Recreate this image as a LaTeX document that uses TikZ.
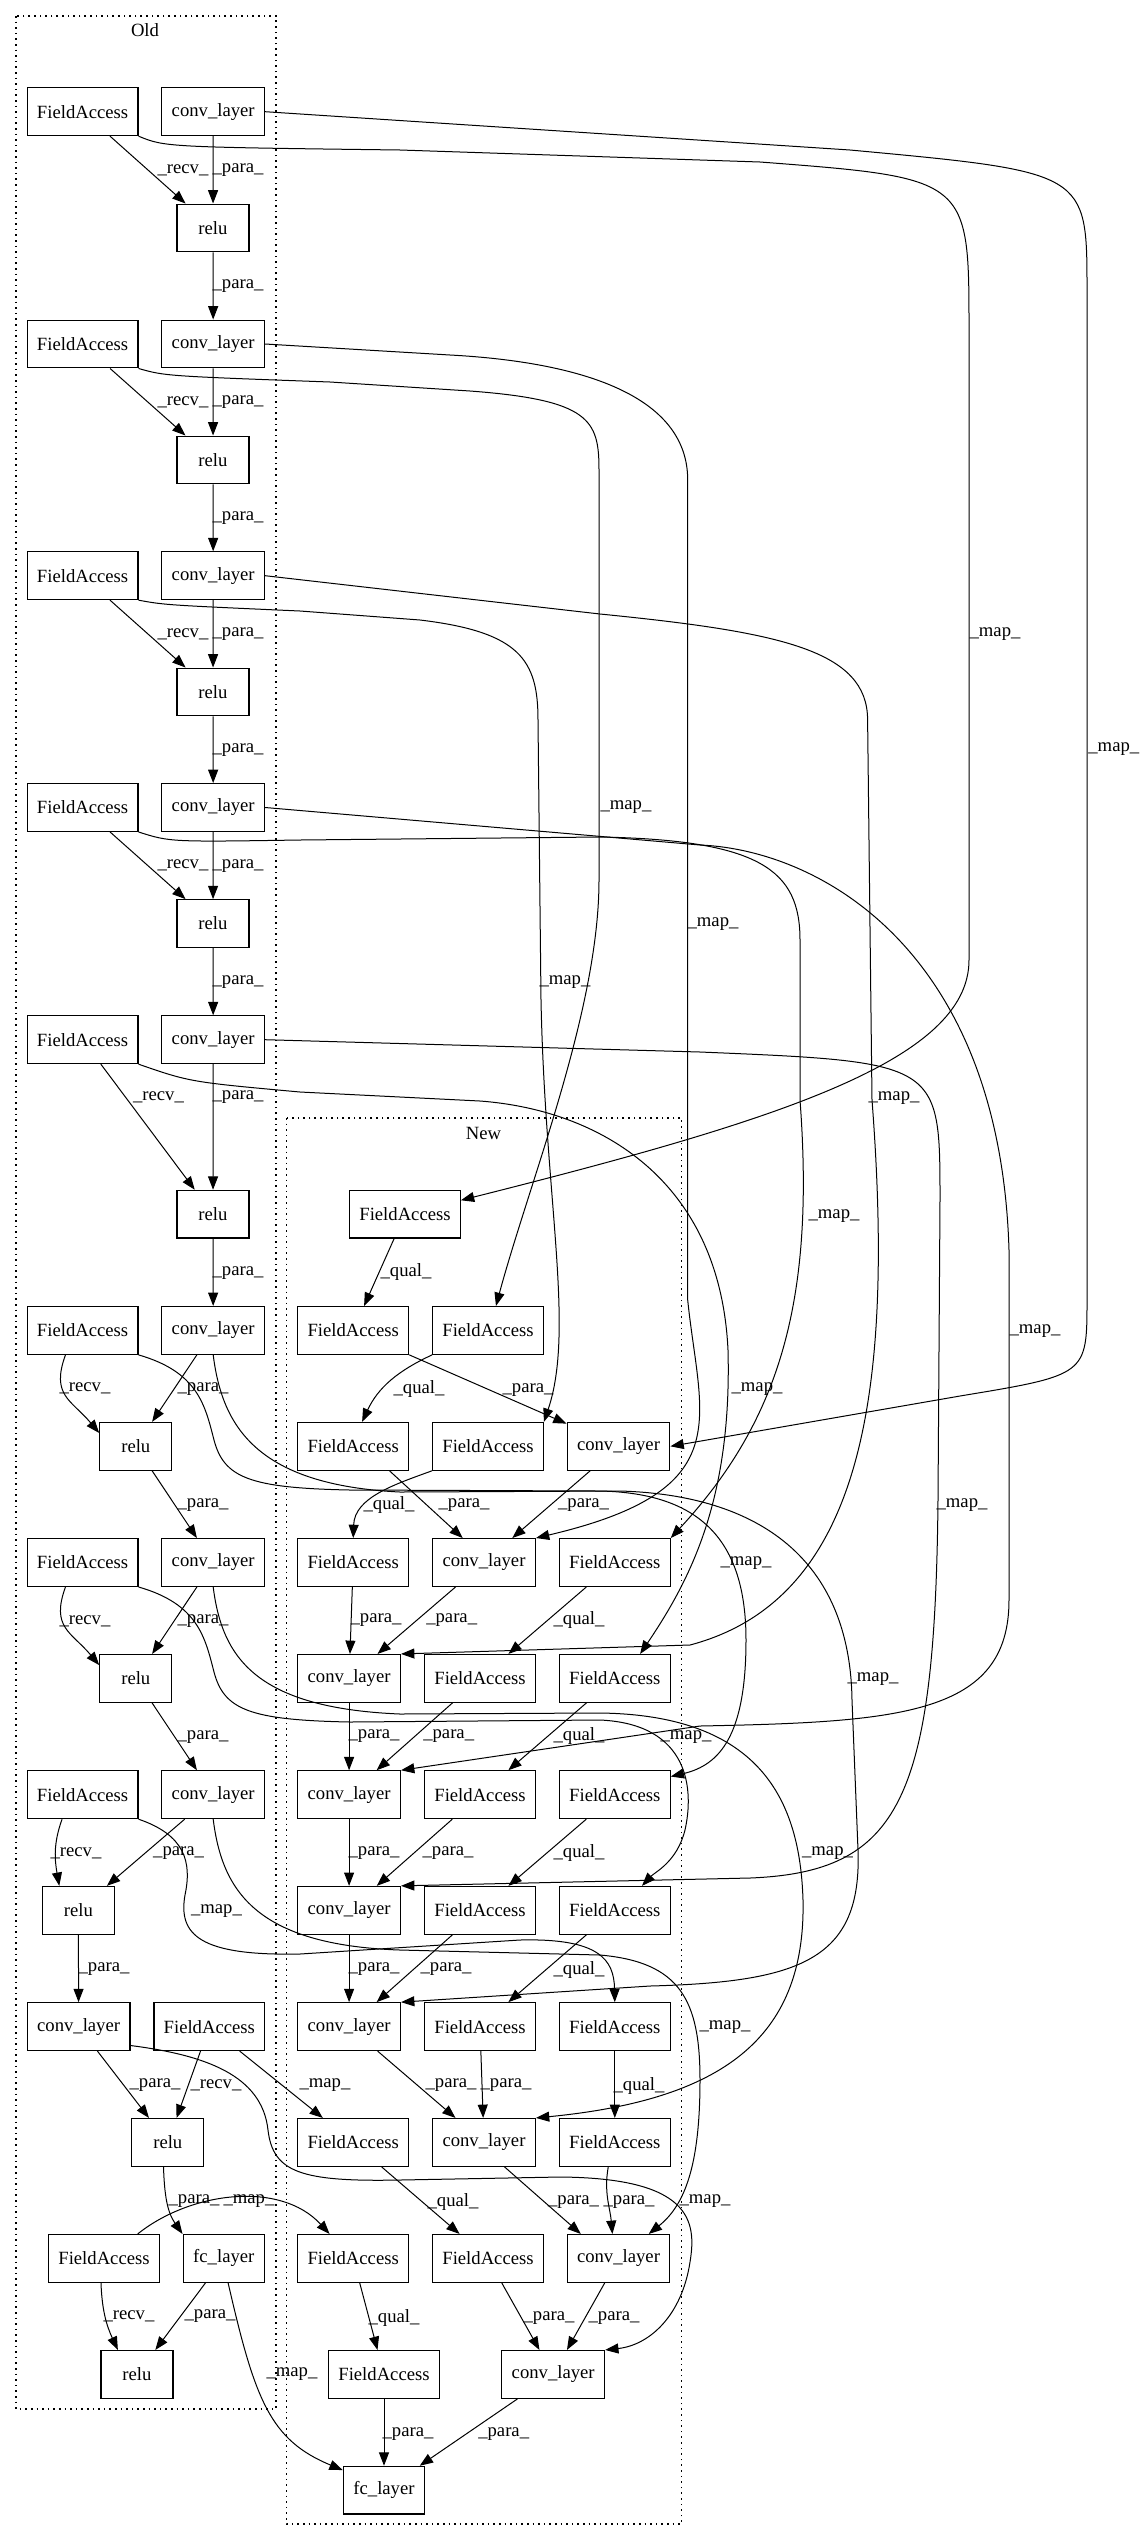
\documentclass[tikz,border=0pt]{standalone}
\usepackage{fontspec}
\setmainfont{Liberation Serif}
\usetikzlibrary{arrows.meta}
\tikzset{
  box/.style={draw, line width=0.9pt, inner sep=0pt, minimum height=35.8pt, font=\fontsize{14}{17}\selectfont},
  fa/.style={box, minimum width=83pt},
  cv/.style={box, minimum width=77pt},
  rl/.style={box, minimum width=54pt},
  fcbox/.style={box, minimum width=61pt},
  arr/.style={line width=0.75pt, -{Triangle[length=10pt,width=7.5pt]}},
  lab/.style={inner sep=0pt, font=\fontsize{14}{17}\selectfont},
  clus/.style={line width=0.9pt, dash pattern=on 1.2pt off 3pt}
}
\begin{document}
\begin{tikzpicture}[x=0.75pt,y=0.75pt]
  \useasboundingbox (0,0) rectangle (1144,-2541);
  % clusters
  \draw[clus] (16,-16) rectangle (276,-2409);
  \node[lab] (old) at (145,-30) {Old};
  \draw[clus] (286.6,-1118) rectangle (681.7,-2524);
  \node[lab] (new) at (483.5,-1133.6) {New};

  % old graph
  \foreach \i/\y/\r in {1/111.7/228, 2/344/460, 3/575.7/692, 4/807.5/923.6, 5/1039.7/1214.2} {
    \node[fa] (ofa\i) at (82.6,-\y) {FieldAccess};
    \node[cv] (ocv\i) at (213.2,-\y) {conv\_layer};
    \node[rl] (orelu\i) at (213,-\r) {relu};
  }
  \foreach \i/\y/\r in {6/1330.4/1446.3, 7/1562.5/1678.4} {
    \node[fa] (ofa\i) at (82.6,-\y) {FieldAccess};
    \node[cv] (ocv\i) at (213.2,-\y) {conv\_layer};
    \node[rl] (orelu\i) at (135.8,-\r) {relu};
  }
  \node[fa] (ofa8) at (82.6,-1794.7) {FieldAccess};
  \node[cv] (ocv8) at (213.2,-1794.7) {conv\_layer};
  \node[rl] (orelu8) at (78.4,-1910.3) {relu};
  \node[cv] (ocv9) at (78.6,-2026.6) {conv\_layer};
  \node[fa] (ofa9) at (209.3,-2026.6) {FieldAccess};
  \node[rl] (orelu9) at (167.8,-2142.4) {relu};
  \node[fa] (ofa10) at (104,-2258.4) {FieldAccess};
  \node[fcbox] (ofc) at (223.8,-2258.4) {fc\_layer};
  \node[rl] (orelu10) at (137,-2374.4) {relu};

  \foreach \i in {1,...,5} {
    \draw[arr] (ofa\i) -- (orelu\i);
    \draw[arr] (ocv\i) -- (orelu\i);
  }
  \foreach \i in {6,7} {
    \draw[arr] (ofa\i.-125) to[out=-110,in=130,looseness=1.3] (orelu\i.160);
    \draw[arr] (ocv\i) -- (orelu\i);
  }
  \foreach \i/\n in {1/2, 2/3, 3/4, 4/5, 5/6, 6/7, 7/8, 8/9}
    \draw[arr] (orelu\i) -- (ocv\n);
  \draw[arr] (ofa8.-130) to[out=-110,in=100] (orelu8.128);
  \draw[arr] (ocv8) -- (orelu8);
  \draw[arr] (ocv9) -- (orelu9);
  \draw[arr] (ofa9) -- (orelu9);
  \draw[arr] (orelu9.-100) to[out=-88,in=125] (ofc.north west);
  \draw[arr] (ofa10.-97) to[out=-88,in=115] (orelu10.128);
  \draw[arr] (ofc) -- (orelu10);

  % new graph
  \node[fa] (nfa1) at (405,-1214.2) {FieldAccess};
  \node[fa] (nfa2) at (353.2,-1330.4) {FieldAccess};
  \node[fa] (nfa3) at (488,-1330.4) {FieldAccess};
  \node[fa] (nfa4) at (353.2,-1446.3) {FieldAccess};
  \node[fa] (nfa5) at (488,-1446.3) {FieldAccess};
  \node[cv] (ncv1) at (618.5,-1446.3) {conv\_layer};
  \node[fa] (nfa6) at (353.2,-1562.5) {FieldAccess};
  \node[cv] (ncv2) at (484,-1562.5) {conv\_layer};
  \node[fa] (nfa7) at (614.8,-1562.5) {FieldAccess};
  \foreach \c/\a/\b/\y in {3/8/9/1678.4, 4/10/11/1794.7, 5/12/13/1910.3, 6/14/15/2026.6} {
    \node[cv] (ncv\c) at (349.1,-\y) {conv\_layer};
    \node[fa] (nfa\a) at (480,-\y) {FieldAccess};
    \node[fa] (nfa\b) at (614.8,-\y) {FieldAccess};
  }
  \node[fa] (nfa16) at (353.2,-2142.4) {FieldAccess};
  \node[cv] (ncv7) at (484,-2142.4) {conv\_layer};
  \node[fa] (nfa17) at (614.8,-2142.4) {FieldAccess};
  \node[fa] (nfa18) at (353.2,-2258.4) {FieldAccess};
  \node[fa] (nfa19) at (488,-2258.4) {FieldAccess};
  \node[cv] (ncv8) at (618.5,-2258.4) {conv\_layer};
  \node[fa] (nfa20) at (384,-2374.4) {FieldAccess};
  \node[cv] (ncv9) at (553.2,-2374.4) {conv\_layer};
  \node[fcbox] (nfc) at (384,-2490.2) {fc\_layer};

  \draw[arr] (nfa1) -- (nfa2);
  \draw[arr] (nfa2) -- (ncv1);
  \draw[arr] (nfa3.south west) to[out=205,in=65] (nfa4.70);
  \draw[arr] (nfa5.south west) to[out=200,in=88] (nfa6.north);
  \draw[arr] (nfa4.-34) -- (ncv2.131);
  \draw[arr] (ncv1) -- (ncv2);
  \draw[arr] (nfa6) -- (ncv3);
  \draw[arr] (ncv2) -- (ncv3);
  \draw[arr] (nfa7) -- (nfa8);
  \foreach \c/\a/\b/\n/\m in {3/8/9/4/10, 4/10/11/5/12, 5/12/13/6/14} {
    \draw[arr] (ncv\c) -- (ncv\n);
    \draw[arr] (nfa\a) -- (ncv\n);
    \draw[arr] (nfa\b) -- (nfa\m);
  }
  \draw[arr] (ncv6) -- (ncv7);
  \draw[arr] (nfa14) -- (ncv7);
  \draw[arr] (nfa15) -- (nfa17);
  \draw[arr] (nfa16) -- (nfa19);
  \draw[arr] (ncv7.-50) -- (ncv8.147);
  \draw[arr] (nfa17.-105) to[out=-100,in=95] (ncv8.104);
  \draw[arr] (nfa18) -- (nfa20);
  \draw[arr] (nfa19) -- (ncv9);
  \draw[arr] (ncv8) -- (ncv9);
  \draw[arr] (nfa20) -- (nfc);
  \draw[arr] (ncv9) -- (nfc);

  % map edges old -> new
  \draw[arr] (ofa1.south east) .. controls (165,-147) .. (400,-150) -- (760,-162) .. controls (969,-178) .. (969,-330) -- (969,-960) .. controls (969,-1060) and (780,-1120) .. (nfa1.14);
  \draw[arr] (ocv1.east) -- (850,-150) .. controls (1087,-172) .. (1087,-290) -- (1087,-1300) .. controls (1087,-1375) .. (960,-1396) -- (ncv1.east);
  \draw[arr] (ofa2.south east) .. controls (165,-376) .. (330,-382) -- (470,-391) .. controls (590,-400) and (599,-420) .. (599,-470) -- (599,-880) .. controls (599,-1010) and (530,-1180) .. (nfa3.72);
  \draw[arr] (ocv2.east) -- (450,-355) .. controls (580,-362) and (687.7,-395) .. (687.7,-480) -- (687.7,-1300) .. controls (700,-1420) and (740,-1490) .. (ncv2.north east);
  \draw[arr] (ofa3.south east) .. controls (165,-605) .. (300,-611) -- (420,-620) .. controls (520,-632) and (538,-660) .. (538,-720) -- (541,-1000) .. controls (545,-1200) and (575,-1330) .. (nfa5.north east);
  \draw[arr] (ocv3.east) -- (600,-614) .. controls (780,-632) and (867.6,-650) .. (867.6,-720) -- (872,-1100) .. controls (895,-1400) and (860,-1600) .. (690,-1645) -- (ncv3.north east);
  \draw[arr] (ofa4.south east) .. controls (170,-842) .. (300,-840) -- (600,-837) .. controls (760,-840) and (800,-870) .. (800,-940) -- (800,-1100) .. controls (815,-1300) and (780,-1420) .. (nfa7.north east);
  \draw[arr] (ocv4.east) -- (700,-845) .. controls (820,-850) and (1000,-950) .. (1009,-1250) -- (1009,-1600) .. controls (1009,-1715) and (900,-1722) .. (700,-1726) -- (ncv4.north east);
  \draw[arr] (ofa5.south east) .. controls (190,-1082) .. (300,-1092) -- (480,-1101) .. controls (600,-1110) and (720,-1180) .. (728,-1350) .. controls (732,-1500) and (690,-1580) .. (nfa9.44);
  \draw[arr] (ocv5.east) -- (700,-1052) .. controls (940,-1062) .. (940,-1200) -- (938,-1500) .. controls (935,-1800) and (900,-1872) .. (750,-1878) -- (ncv5.north east);
  \draw[arr] (ofa6.south east) .. controls (198,-1372) and (205,-1405) .. (214,-1440) .. controls (224,-1478) and (250,-1488) .. (350,-1490) -- (600,-1491) .. controls (700,-1493) and (746,-1540) .. (746,-1640) .. controls (746,-1735) and (720,-1765) .. (nfa11.18);
  \draw[arr] (ocv6.south) .. controls (222,-1425) and (255,-1485) .. (400,-1492) -- (620,-1491) .. controls (760,-1495) and (850,-1560) .. (852,-1700) -- (858,-1850) .. controls (862,-1960) and (800,-1982) .. (650,-1986) -- (ncv6.north east);
  \draw[arr] (ofa7.south east) .. controls (198,-1604) and (205,-1637) .. (214,-1672) .. controls (224,-1710) and (250,-1720) .. (350,-1722) -- (600,-1720) .. controls (690,-1724) and (694,-1790) .. (685,-1830) .. controls (677,-1862) and (655,-1872) .. (nfa13.42);
  \draw[arr] (ocv7.south) .. controls (222,-1657) and (255,-1708) .. (400,-1714) -- (600,-1713) .. controls (760,-1715) and (800,-1800) .. (803,-1900) .. controls (806,-2040) and (720,-2100) .. (ncv7.north east);
  \draw[arr] (ofa8.south east) .. controls (185,-1835) and (192,-1862) .. (185,-1895) .. controls (178,-1935) and (200,-1956) .. (300,-1954) -- (520,-1940) .. controls (600,-1938) and (614,-1960) .. (nfa15.north);
  \draw[arr] (ocv8.south) .. controls (222,-1890) and (255,-1945) .. (400,-1950) -- (600,-1955) .. controls (680,-1962) and (700,-2000) .. (700,-2080) .. controls (700,-2165) and (685,-2205) .. (ncv8.39);
  \draw[arr] (ofa9) -- (nfa16);
  \draw[arr] (ocv9.-20) .. controls (205,-2055) and (262,-2075) .. (268,-2130) .. controls (273,-2172) and (300,-2182) .. (400,-2180) -- (560,-2177) .. controls (690,-2178) and (697,-2220) .. (690,-2262) .. controls (682,-2315) and (650,-2345) .. (ncv9.north east);
  \draw[arr] (ofa10.36) .. controls (190,-2192) and (280,-2180) .. (nfa18.134);
  \draw[arr] (ofc.-80) .. controls (255,-2400) and (270,-2440) .. (nfc.154);

  % edge labels
  \foreach \x/\y/\w [count=\k] in {
    183/169.9/recv, 238/169.9/para, 238/286/para,
    183/402/recv, 238/402/para, 238/518/para,
    183/633.9/recv, 238/633.9/para, 238/749.8/para,
    183/865.6/recv, 238/865.6/para, 238/981.7/para,
    158.5/1097.5/recv, 238/1097.5/para, 238/1272.6/para,
    85/1388.6/recv, 203/1388.6/para, 203/1504.7/para,
    85/1620.8/recv, 203/1620.8/para, 203/1736.9/para,
    76/1853/recv, 178.6/1853/para, 104/1968.7/para,
    155/2085/para, 216/2085/recv, 194/2200.8/para,
    129/2316.5/recv, 210/2316.5/para,
    406/1272/qual, 419/1389/qual, 528/1390/para,
    389/1505/qual, 464/1505/para, 583.5/1505/para,
    376/1620/para, 451.7/1620/para, 579/1620/qual,
    374/1736/para, 448.7/1736/para, 579/1736/qual,
    374/1853/para, 448/1853/para, 579/1853/qual,
    374/1969.5/para, 446/1969.5/para, 579/1969.5/qual,
    451/2085.5/para, 506/2085.5/para, 639/2085.5/qual,
    453/2201.6/qual, 573.5/2201.6/para, 629/2201.6/para,
    394/2317.6/qual, 549/2317.6/para, 614/2317.6/para,
    408/2433.6/para, 503.7/2433.6/para}
    \node[lab] (l\k) at (\x,-\y) {\_\w\_};
  \foreach \x/\y [count=\k] in {995/634, 1113.8/749.5, 626/807.5, 713/924.5, 565/982,
    894/1098, 834/1216, 1035/1331, 757/1389, 962/1505, 746/1563, 873/1679,
    686/1737, 827.5/1853.5, 216.5/1911, 725/2027, 325/2085, 705/2200.7,
    249/2200.7, 292/2374}
    \node[lab] (m\k) at (\x,-\y) {\_map\_};
\end{tikzpicture}
\end{document}
